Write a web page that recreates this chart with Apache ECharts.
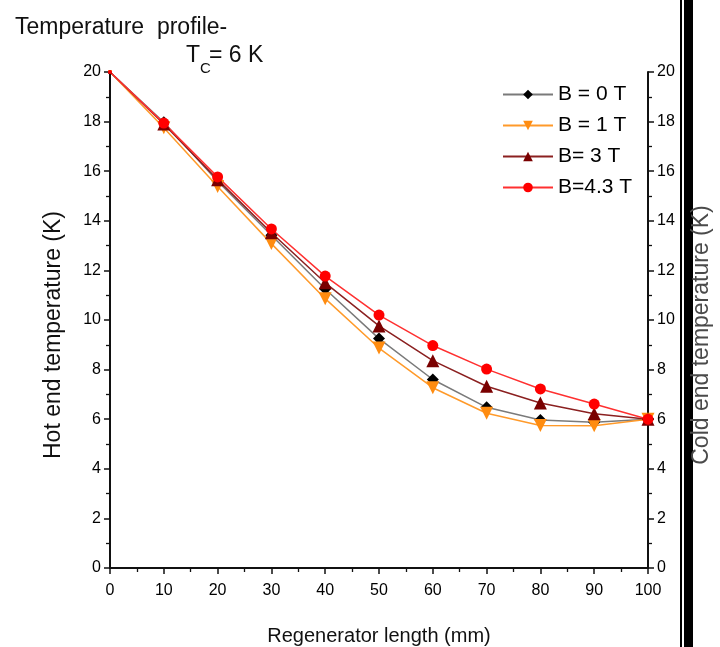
<!DOCTYPE html>
<html>
<head>
<meta charset="utf-8">
<script src="https://cdn.jsdelivr.net/npm/echarts@6/dist/echarts.min.js"></script>
<style>
  html, body { margin: 0; padding: 0; background: #fff; }
  #chart { width: 720px; height: 647px; }
</style>
</head>
<body>
<div id="chart"></div>
<script>
(function () {
  // regenerator position (mm)
  const lengths = [0, 10, 20, 30, 40, 50, 60, 70, 80, 90, 100];

  // temperature (K) per field
  const b0 = [20, 17.97, 15.6, 13.42, 11.25, 9.25, 7.6, 6.48, 5.97, 5.88, 6.0];
  const b1 = [20, 17.75, 15.38, 13.08, 10.86, 8.87, 7.27, 6.24, 5.75, 5.74, 6.0];
  const b3 = [20, 17.9, 15.66, 13.52, 11.5, 9.76, 8.36, 7.33, 6.65, 6.22, 6.0];
  const b43 = [20, 17.94, 15.77, 13.67, 11.77, 10.2, 8.97, 8.02, 7.22, 6.61, 6.0];

  const seriesNames = ["B = 0 T", "B = 1 T", "B= 3 T", "B=4.3 T"];

  const FONT = '"Liberation Sans", Arial, sans-serif';

  function pairs(vals) {
    return lengths.map((x, i) => [x, vals[i]]);
  }

  function sym(size) {
    return (v, p) => (p.dataIndex === 0 ? 4 : size);
  }

  const chart = echarts.init(document.getElementById("chart"));

  const yAxisBase = {
    type: "value",
    min: 0,
    max: 20,
    interval: 2,
    splitLine: { show: false },
    axisLine: { show: true, lineStyle: { color: "#111", width: 2 } },
    axisTick: { show: true, inside: false, length: 6, lineStyle: { color: "#111", width: 1.5 } },
    minorTick: { show: true, splitNumber: 2, length: 4, lineStyle: { color: "#111", width: 1.3 } },
    axisLabel: { color: "#000", fontSize: 16, fontFamily: FONT, margin: 9 },
    nameLocation: "middle",
    nameTextStyle: { color: "#111", fontSize: 23, fontFamily: FONT, padding: [0, 30, 0, 0] },
  };

  const option = {
    animation: false,
    backgroundColor: "#fff",
    title: {
      text: "Temperature  profile-",
      left: 10,
      top: 11,
      textStyle: { color: "#111", fontSize: 23, fontWeight: "normal", fontFamily: FONT },
    },
    legend: {
      left: 497,
      top: 79,
      orient: "vertical",
      itemWidth: 50,
      itemHeight: 12,
      itemGap: 10,
      textStyle: { color: "#000", fontSize: 21, fontFamily: FONT },
      data: seriesNames,
    },
    grid: { left: 110, right: 72, top: 72, bottom: 79, containLabel: false, outerBoundsMode: "none" },
    xAxis: {
      type: "value",
      min: 0,
      max: 100,
      interval: 10,
      splitLine: { show: false },
      axisLine: { lineStyle: { color: "#111", width: 2 } },
      axisTick: { show: true, length: 6, lineStyle: { color: "#111", width: 1.5 } },
      minorTick: { show: true, splitNumber: 2, length: 4, lineStyle: { color: "#111", width: 1.3 } },
      axisLabel: { color: "#000", fontSize: 16, fontFamily: FONT, margin: 15 },
      name: "Regenerator length (mm)",
      nameLocation: "middle",
      nameGap: 58,
      nameTextStyle: { color: "#111", fontSize: 20, fontFamily: FONT },
    },
    yAxis: [
      Object.assign({}, yAxisBase, {
        position: "left",
        name: "Hot end temperature (K)",
        nameGap: 45,
      }),
      Object.assign({}, yAxisBase, {
        position: "right",
        name: "Cold end temperature (K)",
        nameGap: 42,
        nameTextStyle: Object.assign({}, yAxisBase.nameTextStyle, { color: "#4a4a4a" }),
      }),
    ],
    graphic: [
      {
        type: "text",
        left: 186,
        top: 44,
        style: { text: "T", fontSize: 23, fontFamily: FONT, fill: "#111" },
      },
      {
        type: "text",
        left: 200,
        top: 61,
        style: { text: "C", fontSize: 15, fontFamily: FONT, fill: "#111" },
      },
      {
        type: "text",
        left: 209,
        top: 44,
        style: { text: "= 6 K", fontSize: 23, fontFamily: FONT, fill: "#111" },
      },
      {
        type: "rect",
        left: 680,
        top: 0,
        z: -1,
        shape: { width: 2, height: 647 },
        style: { fill: "#000" },
      },
      {
        type: "rect",
        left: 684,
        top: 0,
        z: -1,
        shape: { width: 9, height: 647 },
        style: { fill: "#000" },
      },
    ],
    series: [
      {
        name: seriesNames[0],
        type: "line",
        data: pairs(b0),
        symbol: "diamond",
        symbolSize: sym(12),
        lineStyle: { color: "#7a7a7a", width: 1.5 },
        itemStyle: { color: "#000" },
      },
      {
        name: seriesNames[1],
        type: "line",
        data: pairs(b1),
        symbol: "triangle",
        symbolRotate: 180,
        symbolSize: sym(13),
        lineStyle: { color: "#ff9a2a", width: 1.5 },
        itemStyle: { color: "#ff8c10" },
      },
      {
        name: seriesNames[2],
        type: "line",
        data: pairs(b3),
        symbol: "triangle",
        symbolSize: sym(13),
        lineStyle: { color: "#8b2020", width: 1.5 },
        itemStyle: { color: "#7a0000" },
      },
      {
        name: seriesNames[3],
        type: "line",
        data: pairs(b43),
        symbol: "circle",
        symbolSize: sym(11),
        lineStyle: { color: "#ff3030", width: 1.5 },
        itemStyle: { color: "#ff0000" },
      },
    ],
  };

  chart.setOption(option);

  window.addEventListener("resize", () => {
    chart.resize();
  });
})();
</script>
</body>
</html>
